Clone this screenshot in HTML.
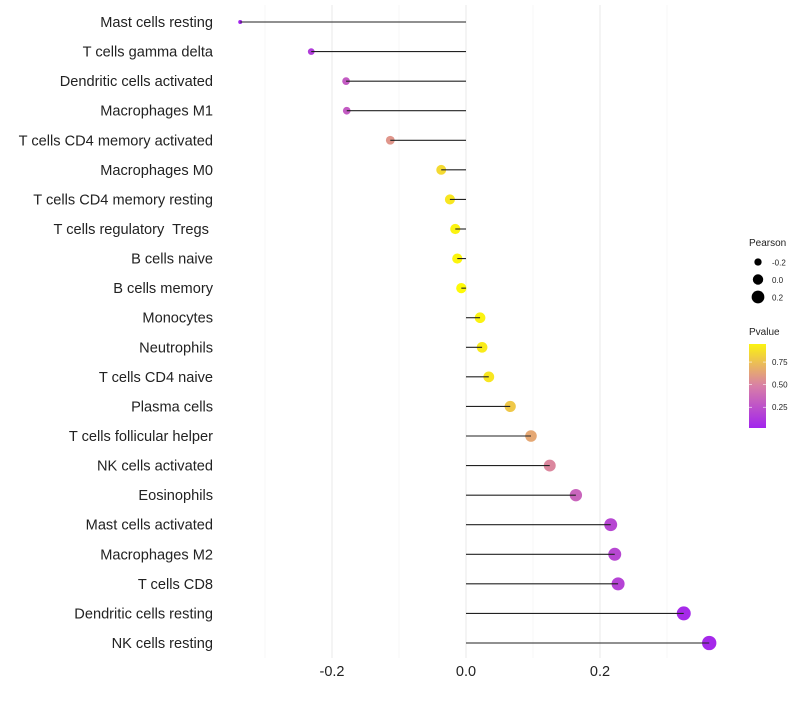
<!DOCTYPE html>
<html><head><meta charset="utf-8"><style>
body{margin:0;background:#fff;font-family:"Liberation Sans",sans-serif}
text{white-space:pre}
</style></head><body>
<svg id="chart" width="800" height="700" xmlns="http://www.w3.org/2000/svg"></svg>
<script>
const categories=["Mast cells resting","T cells gamma delta","Dendritic cells activated","Macrophages M1","T cells CD4 memory activated","Macrophages M0","T cells CD4 memory resting","T cells regulatory  Tregs ","B cells naive","B cells memory","Monocytes","Neutrophils","T cells CD4 naive","Plasma cells","T cells follicular helper","NK cells activated","Eosinophils","Mast cells activated","Macrophages M2","T cells CD8","Dendritic cells resting","NK cells resting"];
const pearson=[-0.337,-0.231,-0.179,-0.178,-0.113,-0.037,-0.024,-0.016,-0.013,-0.007,0.021,0.024,0.034,0.066,0.097,0.125,0.164,0.216,0.222,0.227,0.325,0.363];
const pvalue=[0.02,0.15,0.3,0.3,0.58,0.85,0.9,0.95,0.96,0.98,0.95,0.92,0.9,0.78,0.65,0.52,0.35,0.2,0.2,0.18,0.05,0.04];
const xTicks=[-0.2,0.0,0.2];
const xTickLabels=["-0.2","0.0","0.2"];
const gridMinor=[-0.3,-0.1,0.1,0.3];
const legSizes=[-0.2,0.0,0.2];
const legColorTicks=[0.75,0.5,0.25];

const NS="http://www.w3.org/2000/svg";
const svg=document.getElementById('chart');
const x=v=>466+v*670;
const y=i=>22+i*(621/(categories.length-1));
const r=v=>Math.sqrt(4+68*(v+0.337));
function lerp(a,b,t){return a.map((c,k)=>Math.round(c+(b[k]-c)*t));}
function col(p){const s=[[0,[160,32,240]],[0.5,[218,130,165]],[1,[255,255,0]]];
 p=Math.max(0,Math.min(1,p));const i=p<0.5?0:1;const t=(p-s[i][0])/0.5;const c=lerp(s[i][1],s[i+1][1],t);return `rgb(${c[0]},${c[1]},${c[2]})`;}
function el(tag,attrs,parent){const e=document.createElementNS(NS,tag);for(const k in attrs)e.setAttribute(k,attrs[k]);(parent||svg).appendChild(e);return e;}

gridMinor.forEach(v=>{const g=el('line',{x1:x(v),x2:x(v),y1:5,y2:658,stroke:'#f2f2f2','stroke-width':0.6});

});
xTicks.forEach((v,i)=>{const g=el('line',{x1:x(v),x2:x(v),y1:5,y2:658,stroke:'#ebebeb','stroke-width':1.1});


const t=el('text',{x:x(v),y:676,'text-anchor':'middle','font-size':14.5,fill:'#222'});t.textContent=xTickLabels[i];

});
categories.forEach((c,i)=>{const yy=y(i);
 const t=el('text',{x:213,y:yy+5,'text-anchor':'end','font-size':14.6,fill:'#222'});t.textContent=c;
 
 });
categories.forEach((c,i)=>{const yy=y(i);
 const p=el('circle',{cx:x(pearson[i]),cy:yy,r:r(pearson[i]),fill:col(pvalue[i])});
 
 
 const l=el('line',{x1:x(0),x2:x(pearson[i]),y1:yy,y2:yy,stroke:'#222','stroke-width':1.1});
 
 });
const t1=el('text',{x:749,y:246,'font-size':10,fill:'#222'});t1.textContent='Pearson';


legSizes.forEach((v,i)=>{const cy=262+i*17.5;
 const c=el('circle',{cx:758,cy:cy,r:r(v),fill:'#000'});
 
 
 const t=el('text',{x:772,y:cy+3.5,'font-size':8,fill:'#222'});t.textContent=v.toFixed(1);
 
 });
const t2=el('text',{x:749,y:335,'font-size':10,fill:'#222'});t2.textContent='Pvalue';


const defs=el('defs',{});const gr=el('linearGradient',{id:'pg',x1:0,y1:1,x2:0,y2:0},defs);
[0,0.25,0.5,0.75,1].forEach(o=>el('stop',{offset:o,'stop-color':col(0.02+o*0.93)},gr));
const bar=el('rect',{x:749,y:344,width:17,height:84,fill:'url(#pg)'});


const py=p=>428-(p-0.02)/0.93*84;
legColorTicks.forEach(p=>{const yy=py(p);
 el('line',{x1:749,x2:752,y1:yy,y2:yy,stroke:'#fff','stroke-width':0.6});
 el('line',{x1:763,x2:766,y1:yy,y2:yy,stroke:'#fff','stroke-width':0.6});
 const t=el('text',{x:772,y:yy+3,'font-size':8,fill:'#222'});t.textContent=p.toFixed(2);
 
 });
</script>
</body></html>
